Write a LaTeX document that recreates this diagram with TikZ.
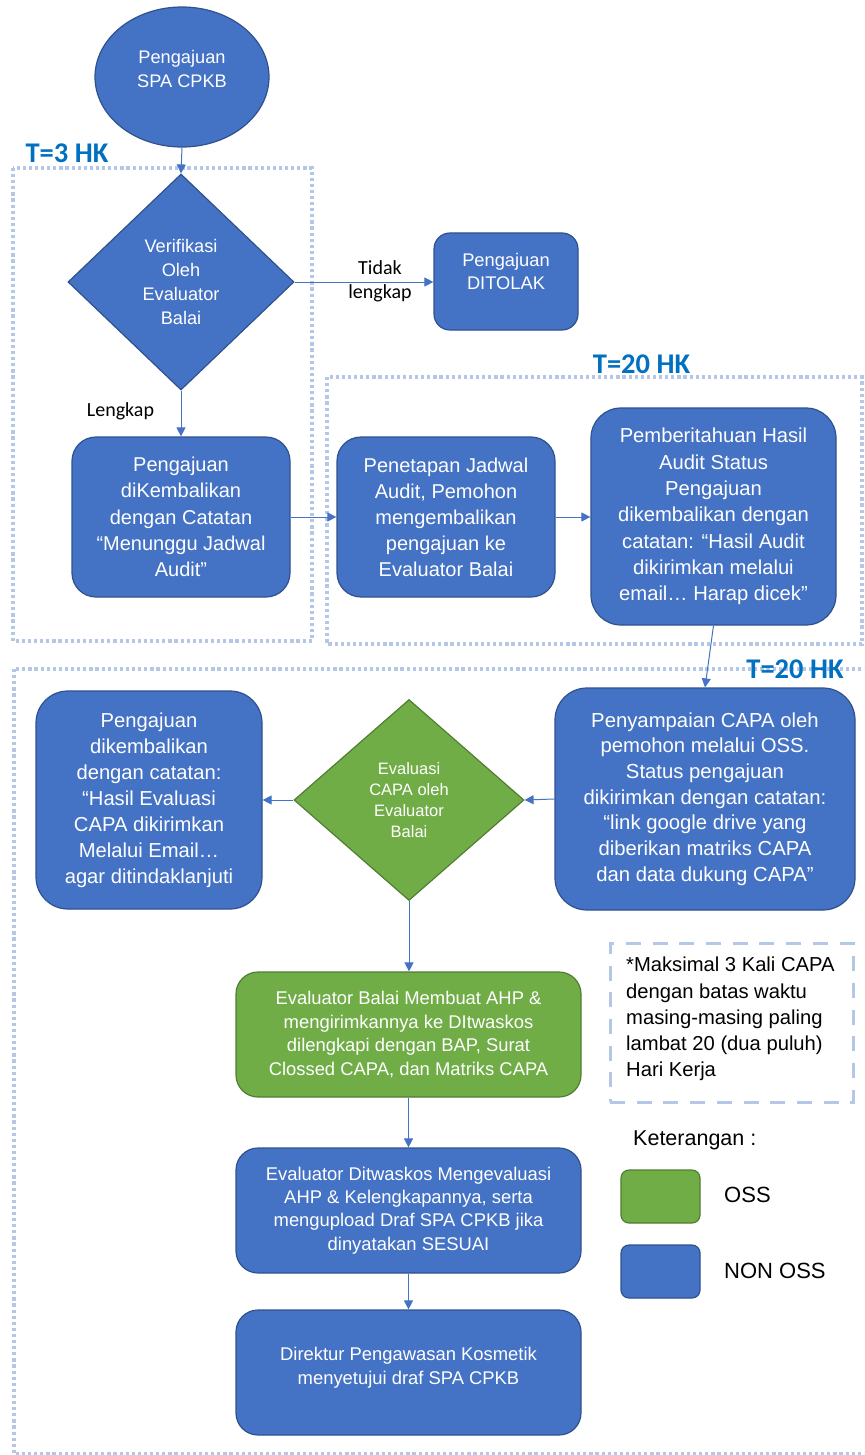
\documentclass[tikz,border=0pt]{standalone}
\usepackage{fontspec}
\setmainfont{Liberation Sans}
\newfontfamily\calibri{Carlito}
\usetikzlibrary{shapes.geometric,arrows.meta}
\definecolor{bfill}{HTML}{4472C4}
\definecolor{bdraw}{HTML}{2F528F}
\definecolor{gfill}{HTML}{70AD47}
\definecolor{gdraw}{HTML}{507E32}
\definecolor{dotc}{HTML}{B4C7E7}
\definecolor{tcol}{HTML}{0070C0}
\definecolor{linec}{HTML}{4472C4}
\newcommand{\fs}[2]{\fontsize{#1}{#2}\selectfont}
\begin{document}
\begin{tikzpicture}[x=1pt,y=-1pt,
  bluebox/.style={draw=bdraw,fill=bfill,line width=1.2pt,text=white,align=center,inner sep=0pt},
  greenbox/.style={draw=gdraw,fill=gfill,line width=1.2pt,text=white,align=center,inner sep=0pt},
  dotbox/.style={draw=dotc,line width=3.2pt,dash pattern=on 3.2pt off 2.9pt},
  arr/.style={draw=linec,line width=1pt,-{Triangle[length=9pt,width=9pt]}},
  ttl/.style={text=tcol,font=\calibri\bfseries\fs{28.5}{30},inner sep=0pt},
  lbl/.style={font=\calibri\fs{20}{24},inner sep=0pt,anchor=base}]
\useasboundingbox (0,0) rectangle (864,1455);
\clip (0,0) rectangle (864,1455);
% dotted group boxes
\draw[dotbox] (13,168) rectangle (312,641);
\draw[dotbox] (327,377) rectangle (862,644);
\draw[dotbox] (14,669) rectangle (900,1454);
% nodes
\node[bluebox,ellipse,minimum width=174,minimum height=140,font=\fs{18.2}{24}] (start) at (182,77) {Pengajuan\\SPA CPKB\\[-8pt]\mbox{}};
\node[bluebox,diamond,minimum width=226,minimum height=216,font=\fs{18.2}{24}] (verif) at (181,282) {Verifikasi\\Oleh\\Evaluator\\Balai};
\node[bluebox,rounded corners=16pt,minimum width=144,minimum height=97,font=\fs{18.3}{23}] (ditolak) at (506,281.5) {Pengajuan\\DITOLAK\\[-2pt]\mbox{}};
\node[bluebox,rounded corners=24pt,minimum width=218,minimum height=160,font=\fs{20}{26.2}] (kembali1) at (181,517) {Pengajuan\\diKembalikan\\dengan Catatan\\“Menunggu Jadwal\\Audit”};
\node[bluebox,rounded corners=24pt,minimum width=218,minimum height=160,font=\fs{20}{26}] (penetapan) at (446,517) {Penetapan Jadwal\\Audit, Pemohon\\mengembalikan\\pengajuan ke\\Evaluator Balai};
\node[bluebox,rounded corners=30pt,minimum width=245,minimum height=217,font=\fs{20.2}{26.3}] (pemberitahuan) at (713.5,516.5) {Pemberitahuan Hasil\\Audit Status\\Pengajuan\\dikembalikan dengan\\catatan: “Hasil Audit\\dikirimkan melalui\\email… Harap dicek”};
\node[bluebox,rounded corners=32pt,minimum width=300,minimum height=222,font=\fs{20.3}{25.7}] (penyampaian) at (705,799) {Penyampaian CAPA oleh\\pemohon melalui OSS.\\Status pengajuan\\dikirimkan dengan catatan:\\“link google drive yang\\diberikan matriks CAPA\\dan data dukung CAPA"};
\node[greenbox,diamond,minimum width=230,minimum height=201,font=\fs{16.5}{21}] (gdiamond) at (409,800) {Evaluasi\\CAPA oleh\\Evaluator\\Balai};
\node[bluebox,rounded corners=32pt,minimum width=226,minimum height=218,font=\fs{20.2}{26}] (kembali2) at (149,800) {Pengajuan\\dikembalikan\\dengan catatan:\\“Hasil Evaluasi\\CAPA dikirimkan\\Melalui Email…\\agar ditindaklanjuti};
\node[greenbox,rounded corners=22pt,minimum width=345,minimum height=125,font=\fs{18.4}{23.7}] (ahp) at (408.5,1034.5) {Evaluator Balai Membuat AHP \&\\mengirimkannya ke DItwaskos\\dilengkapi dengan BAP, Surat\\Clossed CAPA, dan Matriks CAPA};
\node[bluebox,rounded corners=22pt,minimum width=345,minimum height=125,font=\fs{18.4}{23.3}] (evdit) at (408.5,1210.5) {Evaluator Ditwaskos Mengevaluasi\\AHP \& Kelengkapannya, serta\\mengupload Draf SPA CPKB jika\\dinyatakan SESUAI};
\node[bluebox,rounded corners=22pt,minimum width=345,minimum height=125,font=\fs{18.4}{23.3}] (direktur) at (408.5,1372.5) {Direktur Pengawasan Kosmetik\\menyetujui draf SPA CPKB\\[-10pt]\mbox{}};
% note
\node[draw=dotc,line width=3pt,dash pattern=on 15pt off 11.7pt,minimum width=243,minimum height=159,inner sep=0pt] (note) at (731.5,1022.5) {};
\node[anchor=west,align=left,inner sep=0pt,font=\fs{20.2}{26.2}] (notetext) at (626,1019) {*Maksimal 3 Kali CAPA\\dengan batas waktu\\masing-masing paling\\lambat 20 (dua puluh)\\Hari Kerja};
% legend
\node[anchor=west,inner sep=0pt,font=\fs{21.5}{24}] (ket) at (633,1140) {Keterangan :};
\node[greenbox,rounded corners=8pt,minimum width=79,minimum height=53] (legoss) at (660.5,1196.5) {};
\node[anchor=west,inner sep=0pt,font=\fs{22}{24}] (legosst) at (724,1195) {OSS};
\node[bluebox,rounded corners=8pt,minimum width=79,minimum height=53] (legnon) at (660.5,1271.5) {};
\node[anchor=west,inner sep=0pt,font=\fs{22}{24}] (legnont) at (724,1271) {NON OSS};
% labels
\node[ttl] (t1) at (67,153) {T=3 HK};
\node[ttl] (t2) at (641.5,364) {T=20 HK};
\node[ttl] (t3) at (795,669) {T=20 HK};
\node[lbl] (tidak) at (380,274) {Tidak};
\node[lbl] (lengkap) at (380,298) {lengkap};
\node[lbl] (lengkap2) at (120.5,416) {Lengkap};
% connectors
\draw[arr] (start.south) -- (verif.north);
\draw[arr] (verif.east) -- (ditolak.west |- verif.east);
\draw[arr] (verif.south) -- (kembali1.north);
\draw[arr] (kembali1.east) -- (penetapan.west);
\draw[arr] (penetapan.east) -- (pemberitahuan.west |- penetapan.east);
\draw[arr] (pemberitahuan.south) -- (penyampaian.north);
\draw[arr] (penyampaian.west) -- (gdiamond.east);
\draw[arr] (gdiamond.west) -- (kembali2.east);
\draw[arr] (gdiamond.south) -- (ahp.north -| gdiamond.south);
\draw[arr] (ahp.south) -- (evdit.north);
\draw[arr] (evdit.south) -- (direktur.north);
\end{tikzpicture}
\end{document}
